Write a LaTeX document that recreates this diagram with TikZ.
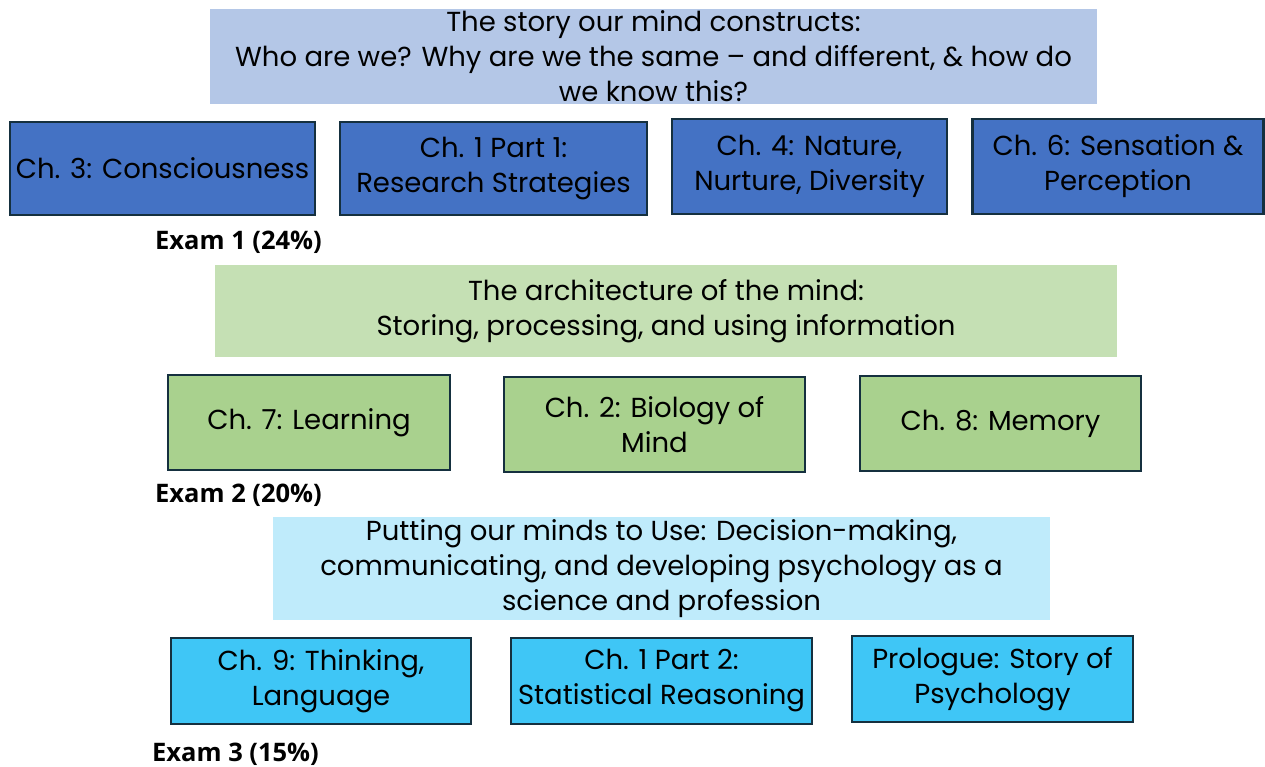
\documentclass[tikz,border=0pt]{standalone}
\usepackage{fontspec}
\setmainfont{Poppins}
\newfontfamily\examfont{Open Sans}
\usetikzlibrary{positioning}

\definecolor{storyfill}{HTML}{B4C7E7}
\definecolor{storybox}{HTML}{4472C4}
\definecolor{archfill}{HTML}{C5E0B4}
\definecolor{archbox}{HTML}{A9D18E}
\definecolor{usefill}{HTML}{BFEBFB}
\definecolor{usebox}{HTML}{3FC6F6}
\definecolor{boxline}{HTML}{15303F}

\tikzset{
    headbox/.style={fill=#1, align=center, inner sep=2pt,
        font=\fontsize{27.5}{35}\selectfont},
    chapbox/.style={draw=boxline, line width=2.5pt, fill=#1, align=center,
        inner sep=2pt, font=\fontsize{27.5}{35}\selectfont},
    examlabel/.style={anchor=west, inner sep=0pt,
        font=\examfont\bfseries\fontsize{25.5}{27}\selectfont}
}

\begin{document}
\begin{tikzpicture}[x=1pt, y=-1pt]
    \useasboundingbox (0,0) rectangle (1265,767);
    % first block
    \node[headbox=storyfill, minimum width=887pt, minimum height=93pt] at (653.5, 56.5) (story)
        {The story our mind constructs:\\Who are we? Why are we the same -- and different, \& how do\\we know this?};
    \node[chapbox=storybox, minimum width=305pt, minimum height=93pt] at (162.5, 168.5) (ch3) {Ch. 3: Consciousness};
    \node[chapbox=storybox, minimum width=307pt, minimum height=93pt] at (493.5, 168.5) (ch1a) {Ch. 1 Part 1:\\Research Strategies};
    \node[chapbox=storybox, minimum width=275pt, minimum height=95pt] at (809.5, 166.5) (ch4) {Ch. 4: Nature,\\Nurture, Diversity};
    \node[chapbox=storybox, minimum width=291pt, minimum height=95pt] at (1118, 166.5) (ch6) {Ch. 6: Sensation \&\\Perception};
    \node[examlabel] at (155, 242) (exam1) {Exam 1 (24\%)};
    % second block
    \node[headbox=archfill, minimum width=902pt, minimum height=92pt] at (666, 311) (arch)
        {The architecture of the mind:\\Storing, processing, and using information};
    \node[chapbox=archbox, minimum width=282pt, minimum height=95pt] at (309, 422.5) (ch7) {Ch. 7: Learning};
    \node[chapbox=archbox, minimum width=301pt, minimum height=95pt] at (654.5, 424.5) (ch2) {Ch. 2: Biology of\\Mind};
    \node[chapbox=archbox, minimum width=281pt, minimum height=95pt] at (1000.5, 423.5) (ch8) {Ch. 8: Memory};
    \node[examlabel] at (155, 495) (exam2) {Exam 2 (20\%)};
    % third block
    \node[headbox=usefill, minimum width=777pt, minimum height=103pt] at (661.5, 568.5) (use)
        {Putting our minds to Use: Decision-making,\\communicating, and developing psychology as a\\science and profession};
    \node[chapbox=usebox, minimum width=300pt, minimum height=86pt] at (321, 681) (ch9) {Ch. 9: Thinking,\\Language};
    \node[chapbox=usebox, minimum width=301pt, minimum height=86pt] at (661.5, 681) (ch1b) {Ch. 1 Part 2:\\Statistical Reasoning};
    \node[chapbox=usebox, minimum width=281pt, minimum height=86pt] at (992.5, 679) (prol) {Prologue: Story of\\Psychology};
    \node[examlabel] at (152, 754) (exam3) {Exam 3 (15\%)};
\end{tikzpicture}
\end{document}
